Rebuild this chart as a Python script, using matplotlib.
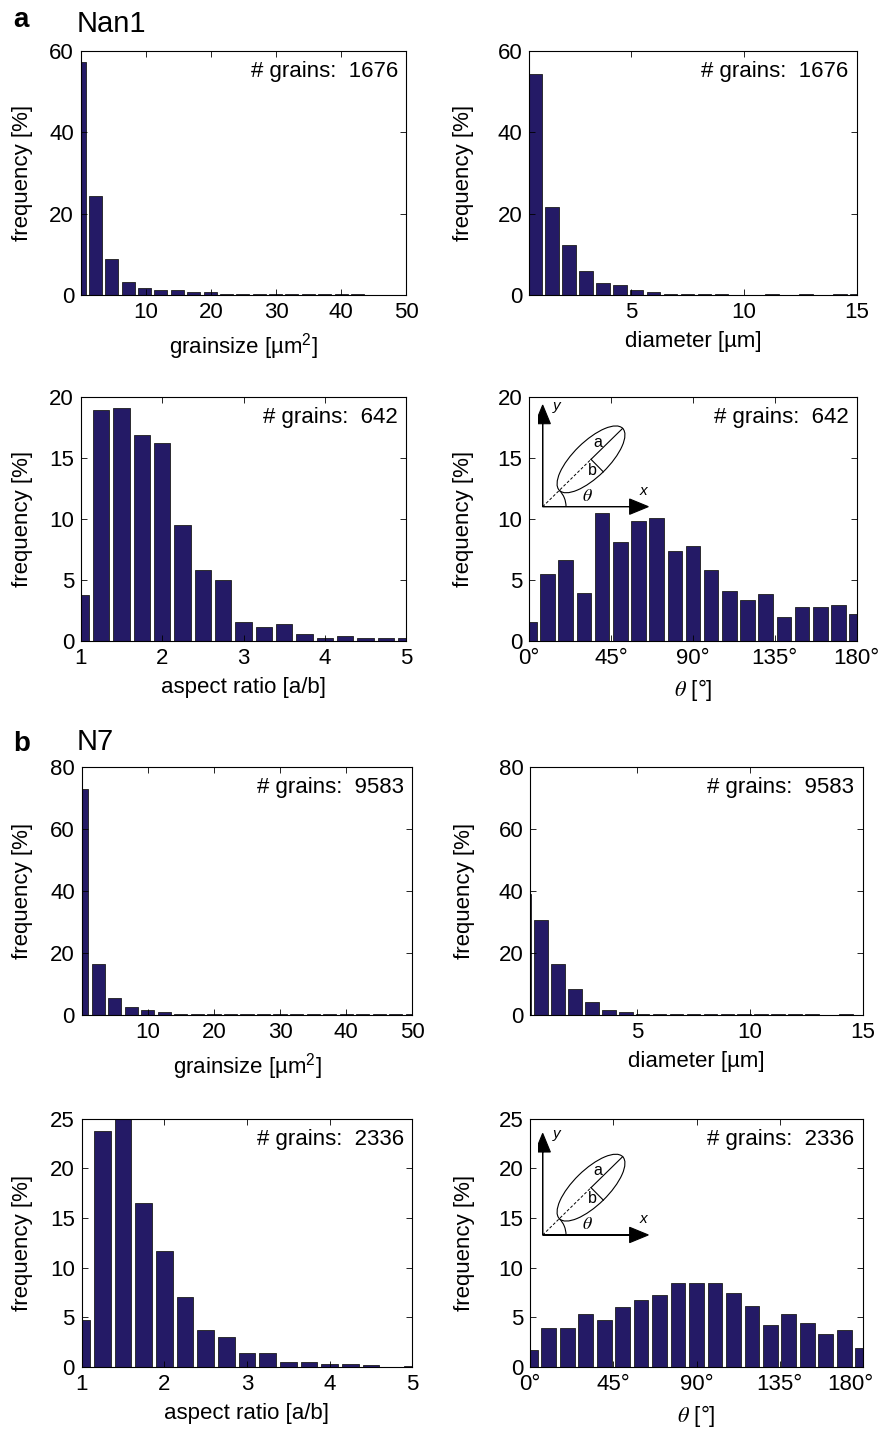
import numpy as np
import matplotlib.pyplot as plt
import matplotlib.transforms as mtransforms
from matplotlib.patches import Ellipse, Arc

plt.rcParams['font.family'] = ['Liberation Sans', 'DejaVu Sans']
plt.rcParams['font.size'] = 16
plt.rcParams['axes.linewidth'] = 0.8

BAR_COLOR = '#241a66'
EDGE_COLOR = '#1c1c1c'
FS = 16

# ---- bin centres -------------------------------------------------------
grainsize_a_x = [-0.3, 2.22, 4.74, 7.26, 9.78, 12.3, 14.82, 17.34, 19.86, 22.38, 24.9,
                 27.42, 29.94, 32.46, 34.98, 37.5, 40.02, 42.54, 45.06, 47.58, 50.1]
grainsize_b_x = [0, 2.5, 5, 7.5, 10, 12.5, 15, 17.5, 20, 22.5, 25,
                 27.5, 30, 32.5, 35, 37.5, 40, 42.5, 45, 47.5, 50]
diameter_x = [0, 0.75, 1.5, 2.25, 3, 3.75, 4.5, 5.25, 6, 6.75, 7.5,
              8.25, 9, 9.75, 10.5, 11.25, 12, 12.75, 13.5, 14.25, 15]
aspect_x = [1, 1.25, 1.5, 1.75, 2, 2.25, 2.5, 2.75, 3, 3.25, 3.5,
            3.75, 4, 4.25, 4.5, 4.75, 5]
theta_x = [0, 10, 20, 30, 40, 50, 60, 70, 80, 90, 100,
           110, 120, 130, 140, 150, 160, 170, 180]

# ---- Nan1 ---------------------------------------------------------------
nan1_grainsize = [57.2, 24.3, 9.0, 3.35, 1.8, 1.2, 1.2, 0.8, 0.8, 0.4, 0.4,
                  0.4, 0.4, 0.4, 0.4, 0.4, 0.4, 0.4, 0, 0, 0]
nan1_diameter = [0, 54.2, 21.7, 12.4, 6.0, 3.0, 2.5, 1.3, 0.8, 0.4, 0.4,
                 0.4, 0.4, 0, 0, 0.3, 0, 0.3, 0, 0.3, 0.3]
nan1_aspect = [3.8, 18.9, 19.05, 16.9, 16.2, 9.5, 5.8, 5.0, 1.55, 1.15, 1.4,
               0.57, 0.27, 0.4, 0.27, 0.27, 0.27]
nan1_theta = [1.58, 5.53, 6.68, 3.95, 10.5, 8.12, 9.8, 10.05, 7.38, 7.79, 5.83,
              4.11, 3.41, 3.84, 1.99, 2.83, 2.83, 2.97, 2.23]

# ---- N7 -----------------------------------------------------------------
n7_grainsize = [72.8, 16.4, 5.6, 2.8, 1.6, 1.0, 0.3, 0.3, 0.3, 0.3, 0.3,
                0.3, 0.3, 0.3, 0.3, 0.3, 0.3, 0.3, 0.3, 0.3, 0.3]
n7_diameter = [38.9, 30.6, 16.4, 8.4, 4.4, 1.6, 1.0, 0.3, 0.3, 0.3, 0.3,
               0.3, 0.3, 0.3, 0.3, 0.3, 0.3, 0.3, 0, 0.3, 0]
n7_aspect = [4.73, 23.8, 25.0, 16.5, 11.7, 7.08, 3.69, 3.02, 1.38, 1.38, 0.47,
             0.47, 0.3, 0.3, 0.17, 0.03, 0.13]
n7_theta = [1.71, 3.89, 3.89, 5.3, 4.77, 6.0, 6.74, 7.25, 8.49, 8.49, 8.49,
            7.42, 6.17, 4.23, 5.3, 4.4, 3.32, 3.69, 1.88]

W, H = 882, 1434
fig = plt.figure(figsize=(W / 100, H / 100), dpi=100)


def px_rect(left, top, right, bottom):
    return [left / W, 1 - bottom / H, (right - left) / W, (bottom - top) / H]


def hist_panel(rect, x, y, width, xlim, ylim, yticks, xticks, xticklabels,
               xlabel, n, ylab_x, xlabel_kw=None):
    ax = fig.add_axes(rect)
    ax.bar(x, y, width=width, color=BAR_COLOR, edgecolor=EDGE_COLOR, linewidth=0.6)
    ax.set_xlim(*xlim)
    ax.set_ylim(*ylim)
    ax.set_yticks(yticks)
    ax.set_xticks(xticks)
    ax.set_xticklabels(xticklabels)
    ax.tick_params(direction='in', top=True, right=True, length=4, width=0.6,
                   labelsize=FS)
    ax.tick_params(axis='x', pad=5)
    ax.tick_params(axis='y', pad=5)
    ax.set_ylabel('frequency [%]', fontsize=FS)
    ax.yaxis.set_label_coords(ylab_x, 0.5)
    ax.set_xlabel(xlabel, fontsize=FS, **(xlabel_kw or {}))
    ax.xaxis.set_label_coords(0.5, -0.145)
    ax.text(0.975, 0.915, '# grains:  %d' % n, transform=ax.transAxes,
            ha='right', va='center', fontsize=FS)
    return ax


def diagram(rect):
    ax = fig.add_axes(rect)
    ax.set_xlim(0, 350)
    ax.set_ylim(0, 350)
    ax.set_aspect('equal')
    ax.axis('off')
    ax.patch.set_alpha(0)
    ox, oy = 15, 30
    ax.arrow(ox, oy, 0, 305, width=0.5, head_width=46, head_length=56,
             length_includes_head=True, fc='k', ec='k', lw=0.8)
    ax.arrow(ox, oy, 317, 0, width=0.5, head_width=46, head_length=56,
             length_includes_head=True, fc='k', ec='k', lw=0.8)
    ax.add_patch(Ellipse((160, 172), 266, 105, angle=44.4, fill=False,
                         ec='k', lw=0.8))
    ax.plot([ox, 160], [oy, 172], ls=(0, (3, 2)), color='k', lw=0.7)
    ax.plot([160, 255], [172, 265], color='k', lw=0.8)
    ax.plot([160, 197], [172, 134.5], color='k', lw=0.8)
    ax.add_patch(Arc((ox, oy), 140, 140, theta1=0, theta2=44.4, color='k', lw=0.8))
    ax.text(180, 224, 'a', ha='center', va='center', fontsize=11.5)
    ax.text(165, 140, 'b', ha='center', va='center', fontsize=11.5)
    ax.text(150, 60, r'$\theta$', ha='center', va='center', fontsize=13,
            math_fontfamily='stix')
    ax.text(318, 78, 'x', ha='center', va='center', fontsize=11, style='italic')
    ax.text(58, 332, 'y', ha='center', va='center', fontsize=11, style='italic')


theta_ticks = [0, 45, 90, 135, 180]
theta_labels = ['0°', '45°', '90°', '135°', '180°']
theta_label = r'$\theta$ [°]'
theta_kw = {'math_fontfamily': 'stix'}
gs_label = r'grainsize [µm$^{\mathregular{2}}$]'

# ---- panel a: Nan1 ------------------------------------------------------
hist_panel(px_rect(81, 50.7, 406, 295.3), grainsize_a_x, nan1_grainsize, 2.0,
           (0, 50), (0, 60), [0, 20, 40, 60], [10, 20, 30, 40, 50],
           ['10', '20', '30', '40', '50'], gs_label, 1676, -0.148)
hist_panel(px_rect(529.3, 50.7, 856.7, 295.3), diameter_x, nan1_diameter, 0.6,
           (0.49, 15), (0, 60), [0, 20, 40, 60], [5, 10, 15],
           ['5', '10', '15'], 'diameter [µm]', 1676, -0.168)
hist_panel(px_rect(81, 396.7, 406, 641.3), aspect_x, nan1_aspect, 0.2,
           (1, 5), (0, 20), [0, 5, 10, 15, 20], [1, 2, 3, 4, 5],
           ['1', '2', '3', '4', '5'], 'aspect ratio [a/b]', 642, -0.148)
hist_panel(px_rect(529.3, 396.7, 856.7, 641.3), theta_x, nan1_theta, 8,
           (0, 180), (0, 20), [0, 5, 10, 15, 20], theta_ticks, theta_labels,
           theta_label, 642, -0.168, theta_kw)
diagram(px_rect(537.7, 400, 654.3, 516.7))

# ---- panel b: N7 --------------------------------------------------------
hist_panel(px_rect(81.7, 766.7, 412.3, 1015.3), grainsize_b_x, n7_grainsize, 2.0,
           (0, 50), (0, 80), [0, 20, 40, 60, 80], [10, 20, 30, 40, 50],
           ['10', '20', '30', '40', '50'], gs_label, 9583, -0.146)
hist_panel(px_rect(530.3, 766.7, 862.7, 1015.3), diameter_x, n7_diameter, 0.6,
           (0.27, 15), (0, 80), [0, 20, 40, 60, 80], [5, 10, 15],
           ['5', '10', '15'], 'diameter [µm]', 9583, -0.166)
hist_panel(px_rect(81.7, 1118.7, 412.3, 1367), aspect_x, n7_aspect, 0.2,
           (1, 5), (0, 25), [0, 5, 10, 15, 20, 25], [1, 2, 3, 4, 5],
           ['1', '2', '3', '4', '5'], 'aspect ratio [a/b]', 2336, -0.146)
ax_b4 = hist_panel(px_rect(530.3, 1118.7, 862.7, 1367), theta_x, n7_theta, 8,
                   (0, 180), (0, 25), [0, 5, 10, 15, 20, 25], theta_ticks,
                   theta_labels, theta_label, 2336, -0.166, theta_kw)
# keep the last angle label inside the figure, as in the original
last_lab = ax_b4.get_xticklabels()[-1]
last_lab.set_transform(last_lab.get_transform() +
                       mtransforms.ScaledTranslation(-12 / 100, 0, fig.dpi_scale_trans))
diagram(px_rect(537.7, 1128.3, 654.3, 1245))

# panel letters and sample names
fig.text(13 / W, 1 - 27 / H, 'a', fontsize=20, fontweight='bold', va='baseline')
fig.text(77 / W, 1 - 32 / H, 'Nan1', fontsize=21, va='baseline')
fig.text(13 / W, 1 - 751 / H, 'b', fontsize=20, fontweight='bold', va='baseline')
fig.text(77 / W, 1 - 750 / H, 'N7', fontsize=21, va='baseline')

fig.savefig('out.png', dpi=100)
